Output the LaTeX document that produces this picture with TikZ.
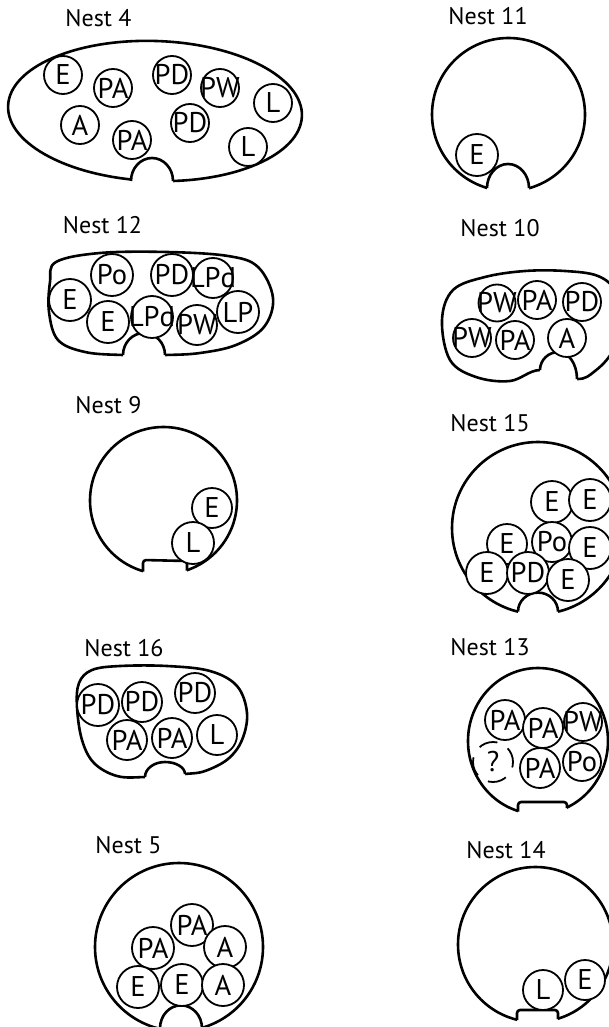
\documentclass[tikz,border=0pt]{standalone}
\usepackage{fontspec}
\setmainfont{PT Sans}
\newcommand\inl[1]{\makebox[0pt][c]{#1}}
% semicircular notch: centre x, base y, x radius, y radius
\newcommand\notchsemi[4]{%
  \fill[white] ({#1-#3},#2) arc[start angle=180,end angle=360,x radius=#3,y radius=#4] -- ({#1+#3},{#2+16}) -- ({#1-#3},{#2+16}) -- cycle;
  \draw[nestline] ({#1-#3},#2) arc[start angle=180,end angle=360,x radius=#3,y radius=#4];}
\begin{document}
\begin{tikzpicture}[x=1pt,y=1pt,yscale=-1,
  nestline/.style={line width=2.6pt, line join=round},
  ind/.style={draw, circle, fill=white, line width=1.8pt, inner sep=0pt, minimum size=#1, font=\fontsize{28.5}{28.5}\selectfont},
  ind/.default=40pt,
  ttl/.style={anchor=base, font=\fontsize{24}{24}\selectfont}]
\useasboundingbox (0,0) rectangle (609,1027);
\clip (0,0) rectangle (609,1027);

% ---------------- Nest 4
\node[ttl] (t4) at (98.5,27) {Nest 4};
\draw[nestline, rotate around={2:(155,111)}] (155,111) ellipse [x radius=147, y radius=70];
\notchsemi{152}{181}{21}{23}
\node[ind=38pt] (n4a) at (63,75) {\inl{E}};
\node[ind=38pt] (n4b) at (113,88) {\inl{PA}};
\node[ind=38pt] (n4c) at (172,75) {\inl{PD}};
\node[ind=38pt] (n4d) at (220,88) {\inl{PW}};
\node[ind=38pt] (n4e) at (273,103) {\inl{L}};
\node[ind=38pt] (n4f) at (80,125) {\inl{A}};
\node[ind=38pt] (n4g) at (132,140) {\inl{PA}};
\node[ind=38pt] (n4h) at (190,123) {\inl{PD}};
\node[ind=38pt] (n4i) at (248,147) {\inl{L}};

% ---------------- Nest 11
\node[ttl] (t11) at (488,25) {Nest 11};
\draw[nestline] (508.5,114.5) circle (76.5);
\notchsemi{508}{188}{21}{24}
\node[ind=42pt] (n11a) at (477,155) {\inl{E}};

% ---------------- Nest 12
\node[ttl] (t12) at (102.5,233) {Nest 12};
\draw[nestline] plot[smooth cycle, tension=0.6] coordinates {(50,282) (56,262) (100,253) (167,252) (228,256) (258,267) (273,298) (264,327) (236,345) (200,353) (165,355) (123,355) (85,352) (58,340) (49,312)};
\notchsemi{144}{355}{21}{22}
\node[ind=42pt] (n12a) at (70,300) {\inl{E}};
\node[ind=42pt] (n12b) at (112,275) {\inl{Po}};
\node[ind=42pt] (n12c) at (172,275) {\inl{PD}};
\node[ind=40pt] (n12d) at (213,278) {\inl{LPd}};
\node[ind=42pt] (n12e) at (108,322) {\inl{E}};
\node[ind=42pt] (n12f) at (152,317) {\inl{LPd}};
\node[ind=40pt] (n12g) at (197,325) {\inl{PW}};
\node[ind=42pt] (n12h) at (238,312) {\inl{LP}};

% ---------------- Nest 10
\node[ttl] (t10) at (500,236) {Nest 10};
\draw[nestline] plot[smooth cycle, tension=0.6] coordinates {(442,320) (453,290) (485,277) (525,271) (565,271) (598,276) (616,292) (621,322) (612,352) (595,371) (577,379) (540,370) (510,381) (476,377) (450,360)};
\fill[white] (540,370) .. controls (540,360.1) and (548.3,352) .. (558.5,352) .. controls (568.7,352) and (577,364.1) .. (577,379) -- (577,392) -- (540,392) -- cycle;
\draw[nestline] (540,370) .. controls (540,360.1) and (548.3,352) .. (558.5,352) .. controls (568.7,352) and (577,364.1) .. (577,379);
\node[ind=37pt] (n10a) at (497,303) {\inl{PW}};
\node[ind=38pt] (n10b) at (537,300) {\inl{PA}};
\node[ind=38pt] (n10c) at (582,302) {\inl{PD}};
\node[ind=38pt] (n10d) at (472,338) {\inl{PW}};
\node[ind=38pt] (n10e) at (515,340) {\inl{PA}};
\node[ind=38pt] (n10f) at (567,338) {\inl{A}};

% ---------------- Nest 9
\node[ttl] (t9) at (108.5,413) {Nest 9};
\draw[nestline] (163.5,500.5) circle (73.5);
\fill[white] (143,557) rectangle (187,585);
\draw[nestline, rounded corners=3pt] (143,571.5) -- (143,560) -- (187,561) -- (187,570.5);
\node[ind=40pt] (n9a) at (212,508) {\inl{E}};
\node[ind=42pt] (n9b) at (193,543) {\inl{L}};

% ---------------- Nest 15
\node[ttl] (t15) at (490,431) {Nest 15};
\draw[nestline] (538,528) circle (86);
\notchsemi{538}{611.6}{20}{19}
\node[ind=40pt] (n15e) at (507,544) {\inl{E}};
\node[ind=42pt] (n15a) at (552,502) {\inl{E}};
\node[ind=42pt] (n15b) at (590,500) {\inl{E}};
\node[ind=40pt] (n15c) at (552,542) {\inl{Po}};
\node[ind=42pt] (n15d) at (590,548) {\inl{E}};
\node[ind=42pt] (n15f) at (487,573) {\inl{E}};
\node[ind=42pt] (n15g) at (528,573) {\inl{PD}};
\node[ind=42pt] (n15h) at (568,580) {\inl{E}};

% ---------------- Nest 16
\node[ttl] (t16) at (124,656) {Nest 16};
\draw[nestline] plot[smooth cycle, tension=0.6] coordinates {(77,707) (79,683) (92,670) (120,666) (167,666) (210,671) (237,686) (247,713) (242,740) (228,759) (205,771) (185,774) (145,777) (117,776) (94,763) (82,740)};
\fill[white] (145,777) .. controls (145,768.7) and (154,762) .. (165,762) .. controls (176,762) and (185,767.4) .. (185,774) -- (185,790) -- (145,790) -- cycle;
\draw[nestline] (145,777) .. controls (145,768.7) and (154,762) .. (165,762) .. controls (176,762) and (185,767.4) .. (185,774);
\node[ind=42pt] (n16a) at (98,705) {\inl{PD}};
\node[ind=40pt] (n16b) at (142,702) {\inl{PD}};
\node[ind=40pt] (n16c) at (195,693) {\inl{PD}};
\node[ind=40pt] (n16d) at (127,740) {\inl{PA}};
\node[ind=40pt] (n16e) at (172,738) {\inl{PA}};
\node[ind=40pt] (n16f) at (217,735) {\inl{L}};

% ---------------- Nest 13
\node[ttl] (t13) at (490,655) {Nest 13};
\draw[nestline] (538,741) ellipse [x radius=70, y radius=73];
\fill[white] (518,800) rectangle (567,830);
\draw[nestline, rounded corners=3pt] (518,811.5) -- (518,802) -- (567,802) -- (567,808);
\node[ind=40pt] (n13a) at (505,720) {\inl{PA}};
\node[ind=40pt] (n13b) at (543,728) {\inl{PA}};
\node[ind=38pt] (n13c) at (583,722) {\inl{PW}};
\node[ind=40pt, dash pattern=on 19pt off 12pt, dash phase=4pt] (n13d) at (493,762) {\inl{?}};
\node[ind=40pt] (n13e) at (540,768) {\inl{PA}};
\node[ind=38pt] (n13f) at (582,762) {\inl{Po}};

% ---------------- Nest 5
\node[ttl] (t5) at (128.5,853) {Nest 5};
\draw[nestline] (179,947) circle (84);
\notchsemi{181}{1028.3}{21}{23}
\node[ind=42pt] (n5a) at (192,925) {\inl{PA}};
\node[ind=42pt] (n5b) at (153,948) {\inl{PA}};
\node[ind=42pt] (n5c) at (225,947) {\inl{A}};
\node[ind=42pt] (n5d) at (138,987) {\inl{E}};
\node[ind=42pt] (n5e) at (182,985) {\inl{E}};
\node[ind=42pt] (n5f) at (223,985) {\inl{A}};

% ---------------- Nest 14
\node[ttl] (t14) at (506,858) {Nest 14};
\draw[nestline] (535.5,944.5) circle (77.5);
\fill[white] (517,1007) rectangle (558,1030);
\draw[nestline, rounded corners=3pt] (517,1020) -- (517,1010) -- (558,1010) -- (558,1019);
\node[ind=40pt] (n14a) at (543,990) {\inl{L}};
\node[ind=40pt] (n14b) at (585,980) {\inl{E}};
\end{tikzpicture}
\end{document}
